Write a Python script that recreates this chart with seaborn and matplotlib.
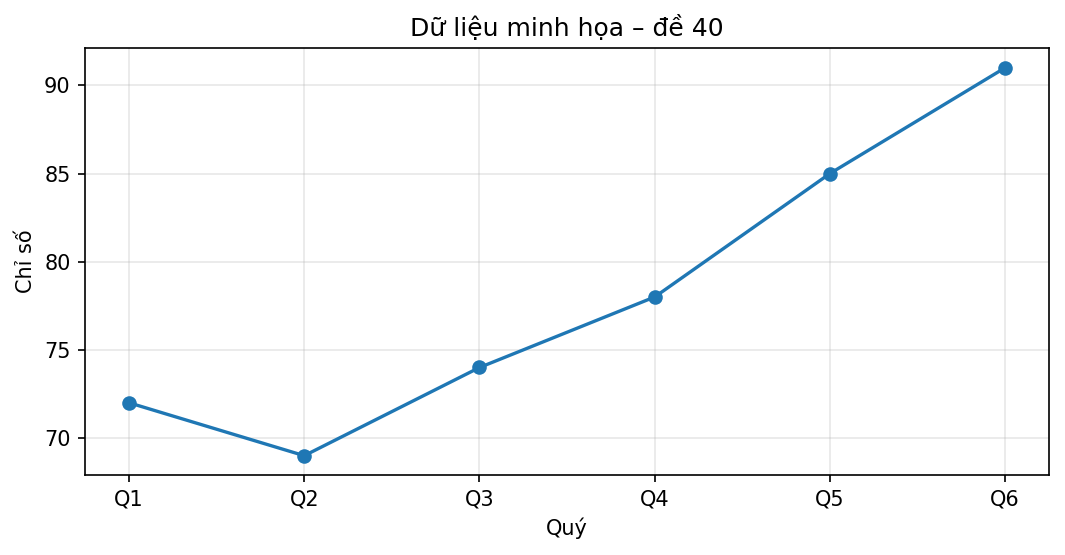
import matplotlib
matplotlib.use("Agg")
import matplotlib.pyplot as plt
import seaborn as sns
import pandas as pd

# data
quarters = ["Q1", "Q2", "Q3", "Q4", "Q5", "Q6"]
values = [72, 69, 74, 78, 85, 91]

df = pd.DataFrame({"Quý": quarters, "Chỉ số": values})

# plain matplotlib look (black text, black spines)
plt.rcParams["font.family"] = ["DejaVu Sans"]

fig, ax = plt.subplots(figsize=(7.1, 3.7), dpi=150)
sns.lineplot(data=df, x="Quý", y="Chỉ số", marker="o", markersize=7,
             markeredgewidth=0, color="#1f77b4", linewidth=1.6, ax=ax)
ax.grid(True, alpha=0.3)
ax.set_title("Dữ liệu minh họa – đề 40")
ax.set_xlabel("Quý")
ax.set_ylabel("Chỉ số")

fig.subplots_adjust(left=0.080, right=0.985, top=0.913, bottom=0.144)
fig.savefig("out.png", dpi=150)
